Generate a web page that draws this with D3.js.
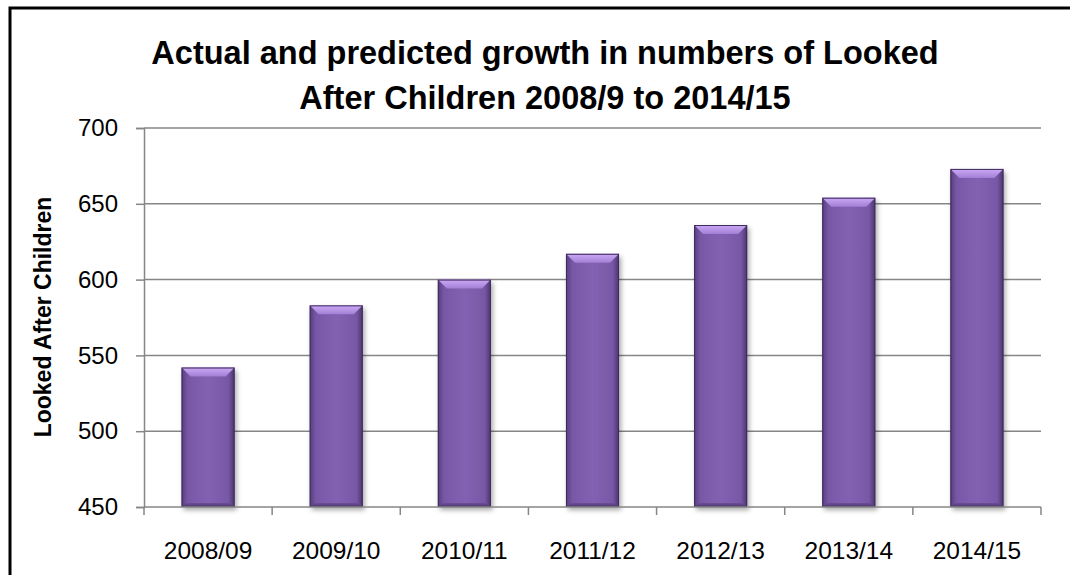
<!DOCTYPE html>
<html>
<head>
<meta charset="utf-8">
<script src="https://cdn.jsdelivr.net/npm/d3@7"></script>
<style>
  html, body { margin: 0; padding: 0; background: #fff; }
  svg { display: block; }
</style>
</head>
<body>
<svg id="chart" width="1070" height="575"></svg>
<script>
// ---- data ----
const categories = ["2008/09", "2009/10", "2010/11", "2011/12", "2012/13", "2013/14", "2014/15"];
const values = [542, 583, 600, 617, 636, 654, 673];
const yTicks = [450, 500, 550, 600, 650, 700];
const titleLines = ["Actual and predicted growth in numbers of Looked", "After Children 2008/9 to 2014/15"];
const yAxisTitle = "Looked After Children";

// ---- layout ----
const W = 1070, H = 575;
const plot = { left: 144, right: 1041, top: 128, bottom: 507 };
const svg = d3.select("#chart");
const font = "'Liberation Sans', Arial, sans-serif";

// outer border
svg.append("path")
  .attr("d", `M10,${H + 5} L10,8 L${W + 5},8`)
  .attr("fill", "none").attr("stroke", "#000").attr("stroke-width", 3);

const x = d3.scaleBand().domain(categories).range([plot.left, plot.right]).padding(0);
const y = d3.scaleLinear().domain([450, 700]).range([plot.bottom, plot.top]);

// defs
const defs = svg.append("defs");
const bodyGrad = defs.append("linearGradient").attr("id", "body").attr("x1", 0).attr("x2", 1).attr("y1", 0).attr("y2", 0);
[[0, "#563e7e"], [0.12, "#7858a6"], [0.5, "#8262b2"], [0.88, "#7858a6"], [1, "#4a356e"]]
  .forEach(([o, c]) => bodyGrad.append("stop").attr("offset", o).attr("stop-color", c));
const topGrad = defs.append("linearGradient").attr("id", "topb").attr("x1", 0).attr("x2", 0).attr("y1", 0).attr("y2", 1);
[[0, "#cdaaf7"], [1, "#a17fd4"]].forEach(([o, c]) => topGrad.append("stop").attr("offset", o).attr("stop-color", c));
const botGrad = defs.append("linearGradient").attr("id", "botb").attr("x1", 0).attr("x2", 0).attr("y1", 0).attr("y2", 1);
[[0, "#6c4f96"], [1, "#4c3670"]].forEach(([o, c]) => botGrad.append("stop").attr("offset", o).attr("stop-color", c));
const shadow = defs.append("filter").attr("id", "shadow").attr("x", "-30%").attr("y", "-10%").attr("width", "160%").attr("height", "130%");
shadow.append("feDropShadow").attr("dx", 2).attr("dy", 3).attr("stdDeviation", 2.5)
  .attr("flood-color", "#000").attr("flood-opacity", 0.35);

// gridlines
svg.append("g").selectAll("line").data(yTicks.filter(t => t !== 450)).join("line")
  .attr("x1", plot.left).attr("x2", plot.right)
  .attr("y1", d => y(d)).attr("y2", d => y(d))
  .attr("stroke", "#868686").attr("stroke-width", 1.5);

// bars
const barW = x.bandwidth() * 0.414;
const bev = 9;
const bars = svg.append("g").selectAll("g").data(values).join("g")
  .attr("transform", (d, i) => `translate(${x(categories[i]) + (x.bandwidth() - barW) / 2},0)`);
bars.append("rect")
  .attr("x", 0).attr("width", barW)
  .attr("y", d => y(d)).attr("height", d => plot.bottom - y(d))
  .attr("fill", "url(#body)").attr("filter", "url(#shadow)");
bars.append("path")
  .attr("d", d => `M0,${y(d)} L${barW},${y(d)} L${barW - bev},${y(d) + bev} L${bev},${y(d) + bev} Z`)
  .attr("fill", "url(#topb)");
bars.append("path")
  .attr("d", d => `M0,${plot.bottom} L${barW},${plot.bottom} L${barW - 4},${plot.bottom - 4} L4,${plot.bottom - 4} Z`)
  .attr("fill", "url(#botb)");
bars.append("rect")
  .attr("x", 0.5).attr("width", barW - 1)
  .attr("y", d => y(d) + 0.5).attr("height", d => plot.bottom - y(d) - 1)
  .attr("fill", "none").attr("stroke", "#3e2b5c").attr("stroke-width", 1);

// y axis
const yAxis = d3.axisLeft(y).tickValues(yTicks).tickSize(8).tickPadding(18);
const gy = svg.append("g").attr("transform", `translate(${plot.left},0)`).call(yAxis);
gy.select(".domain").attr("stroke", "#868686").attr("stroke-width", 1.5);
gy.selectAll(".tick line").attr("stroke", "#868686").attr("stroke-width", 1.5);
gy.selectAll(".tick text").attr("font-family", font).attr("font-size", 24).attr("fill", "#000");

// x axis
const gx = svg.append("g").attr("transform", `translate(0,${plot.bottom})`);
gx.append("line").attr("x1", plot.left).attr("x2", plot.right).attr("y1", 0).attr("y2", 0)
  .attr("stroke", "#868686").attr("stroke-width", 1.5);
const edges = categories.map(c => x(c)).concat([x(categories[categories.length - 1]) + x.bandwidth()]);
gx.selectAll("line.tk").data(edges).join("line").attr("class", "tk")
  .attr("x1", d => d).attr("x2", d => d).attr("y1", 0).attr("y2", 8)
  .attr("stroke", "#868686").attr("stroke-width", 1.5);
gx.selectAll("text").data(categories).join("text")
  .attr("x", d => x(d) + x.bandwidth() / 2).attr("y", 52)
  .attr("text-anchor", "middle")
  .attr("font-family", font).attr("font-size", 24.5).attr("fill", "#000")
  .text(d => d);

// title
svg.append("g").selectAll("text").data(titleLines).join("text")
  .attr("x", 545).attr("y", (d, i) => 64 + i * 45)
  .attr("text-anchor", "middle")
  .attr("font-family", font).attr("font-weight", "bold").attr("font-size", 32.5).attr("fill", "#000")
  .text(d => d);

// y axis title
svg.append("text")
  .attr("transform", `translate(51,317) rotate(-90)`)
  .attr("text-anchor", "middle")
  .attr("font-family", font).attr("font-weight", "bold").attr("font-size", 23).attr("fill", "#000")
  .text(yAxisTitle);
</script>
</body>
</html>
